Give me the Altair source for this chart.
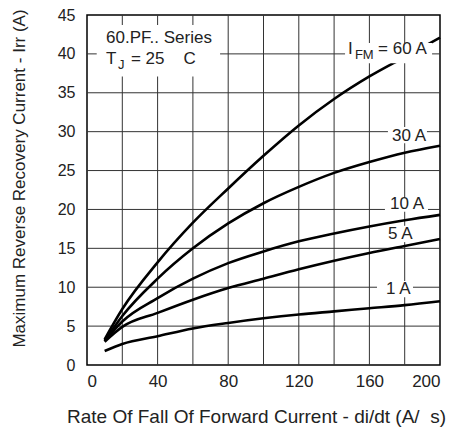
import altair as alt
import pandas as pd

# di/dt values (A/us)
didt = [10, 20, 40, 60, 80, 100, 120, 140, 160, 180, 200]
# Irr values (A) per forward current
irr_60 = [3.3, 7.2, 13.2, 18.3, 22.7, 26.9, 30.8, 34.2, 37.1, 39.6, 42.1]
irr_30 = [3.1, 6.3, 11.1, 15.0, 18.2, 20.8, 22.9, 24.7, 26.1, 27.3, 28.2]
irr_10 = [3.1, 5.6, 8.6, 11.1, 13.1, 14.6, 15.9, 16.9, 17.8, 18.6, 19.3]
irr_5 = [3.0, 4.9, 6.7, 8.4, 9.9, 11.1, 12.3, 13.4, 14.4, 15.3, 16.2]
irr_1 = [1.8, 2.7, 3.7, 4.7, 5.4, 6.0, 6.5, 6.9, 7.3, 7.7, 8.2]
series_names = ["60 A", "30 A", "10 A", "5 A", "1 A"]

# grid positions
grid_x = [20, 40, 60, 80, 100, 120, 140, 160, 180]
grid_y = [5, 10, 15, 20, 25, 30, 35, 40]

# annotation texts and anchor positions (data units)
ann_text = ["60.PF.. Series", "T", "J", "= 25\u00a0\u00a0\u00a0 C", "I", "FM", "= 60 A",
            "30 A", "10 A", "5 A", "1 A"]
ann_x = [10.8, 10.8, 17.6, 24.9, 147.9, 151.8, 164.9, 172.8, 171.7, 170.5, 169.4]
ann_y = [42.0, 39.3, 38.6, 39.3, 40.6, 39.9, 40.6, 29.5, 20.7, 16.8, 9.8]
ann_size = [17, 17, 13, 17, 17, 13, 17, 17, 17, 17, 17]

# white boxes behind annotations (data units)
box_x = [5.5, 146.2, 170.5, 168.8, 169.4, 164.3]
box_x2 = [75.4, 195.5, 192.6, 193.2, 186.0, 184.7]
box_y = [37.1, 38.8, 28.5, 19.7, 15.8, 8.7]
box_y2 = [43.7, 41.4, 30.6, 21.5, 17.9, 10.8]

rows = []
for name, vals in zip(series_names, [irr_60, irr_30, irr_10, irr_5, irr_1]):
    for x, y in zip(didt, vals):
        rows.append({"series": name, "x": x, "y": y})
df = pd.DataFrame(rows)
ann = pd.DataFrame({"t": ann_text, "x": ann_x, "y": ann_y, "s": ann_size})
boxes = pd.DataFrame({"x": box_x, "x2": box_x2, "y": box_y, "y2": box_y2})
gx = pd.DataFrame({"x": grid_x})
gy = pd.DataFrame({"y": grid_y})

FONT = "Liberation Sans"
xscale = alt.Scale(domain=[0, 200], nice=False)
yscale = alt.Scale(domain=[0, 45], nice=False)

ax_kw = dict(grid=False, domain=False, ticks=False)
xaxis = alt.Axis(values=list(range(0, 201, 40)),
                 title="Rate Of Fall Of Forward Current - di/dt (A/\u00a0\u00a0s)",
                 titleX=169, titleY=57, titleBaseline="alphabetic",
                 titleAnchor="middle", titleFontSize=19, labelPadding=8,
                 labelFontSize=17, **ax_kw)
yaxis = alt.Axis(values=list(range(0, 46, 5)),
                 title="Maximum Reverse Recovery Current - Irr (A)",
                 titleX=-68, titleY=163, titleAngle=-90,
                 titleBaseline="middle", titleAnchor="middle", labelPadding=12,
                 labelFontSize=16, **ax_kw)

vgrid = alt.Chart(gx).mark_rule(color="#333", strokeWidth=1).encode(
    x=alt.X("x:Q", scale=xscale, axis=xaxis),
)
hgrid = alt.Chart(gy).mark_rule(color="#333", strokeWidth=1).encode(
    y=alt.Y("y:Q", scale=yscale, axis=yaxis),
)

lines = alt.Chart(df).mark_line(color="black", strokeWidth=2.6,
                                interpolate="monotone").encode(
    x=alt.X("x:Q", scale=xscale, axis=xaxis),
    y=alt.Y("y:Q", scale=yscale, axis=yaxis),
    detail="series:N",
)

bg = alt.Chart(boxes).mark_rect(color="white").encode(
    x=alt.X("x:Q", scale=xscale, axis=xaxis),
    x2="x2:Q",
    y=alt.Y("y:Q", scale=yscale, axis=yaxis),
    y2="y2:Q",
)

texts = alt.Chart(ann).mark_text(align="left", baseline="middle",
                                 font=FONT, color="#222").encode(
    x=alt.X("x:Q", scale=xscale, axis=xaxis),
    y=alt.Y("y:Q", scale=yscale, axis=yaxis),
    text="t:N",
    size=alt.Size("s:Q", scale=None, legend=None),
)

chart = alt.layer(vgrid, hgrid, lines, bg, texts).properties(
    width=353, height=350,
    autosize=alt.AutoSizeParams(type="none"),
    padding={"left": 79, "top": 7, "right": 8, "bottom": 68},
).configure_view(
    stroke="black", strokeWidth=1.5,
).configure_axis(
    labelFont=FONT, labelColor="#222",
    titleFont=FONT, titleFontSize=17, titleColor="#222", titleFontWeight="normal",
)

chart.save("out.html", embed_options={"renderer": "svg", "actions": False})
